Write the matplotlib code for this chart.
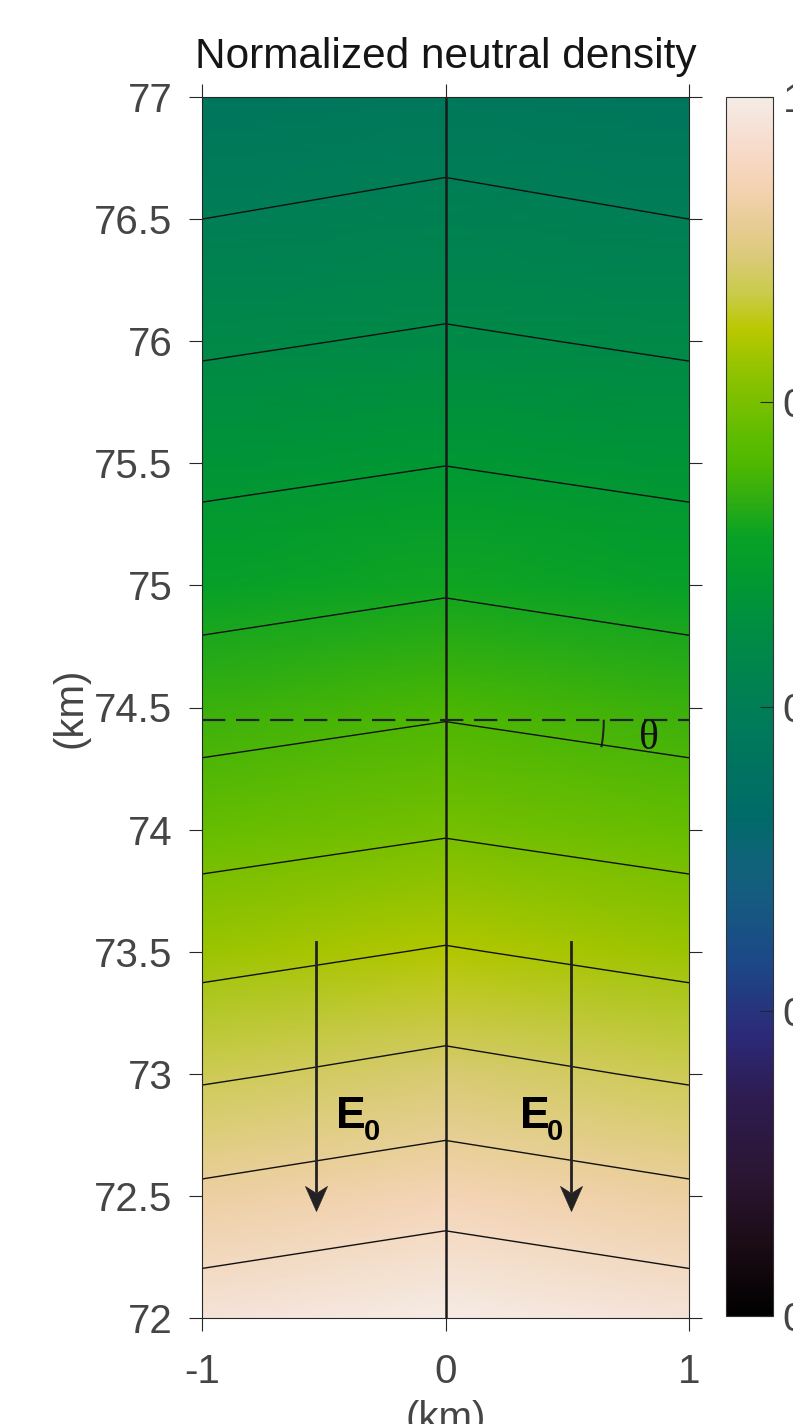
import numpy as np
import matplotlib
matplotlib.use("Agg")
import matplotlib.pyplot as plt
from matplotlib.colors import LinearSegmentedColormap
from matplotlib.patches import Arc
from matplotlib.path import Path
from matplotlib.ticker import FormatStrFormatter

plt.rcParams['font.family'] = ['Liberation Sans', 'DejaVu Sans']
plt.rcParams['axes.unicode_minus'] = False

# grid of the normalized density
x_km = [-1.0, 0.0, 1.0]
z_km = [72.0, 72.5, 73.0, 73.5, 74.0, 74.5, 75.0, 75.5, 76.0, 76.5, 77.0]
dens_center = [1.000, 0.930, 0.864, 0.803, 0.746, 0.694, 0.645, 0.599, 0.556, 0.514, 0.473]
dens_edge = [0.978, 0.909, 0.844, 0.785, 0.730, 0.679, 0.630, 0.586, 0.543, 0.500, 0.461]
contour_levels = [0.50, 0.55, 0.60, 0.65, 0.70, 0.75, 0.80, 0.85, 0.90, 0.95]

y_ticks = [72, 72.5, 73, 73.5, 74, 74.5, 75, 75.5, 76, 76.5, 77]
x_ticks = [-1, 0, 1]
cbar_ticks = [0, 0.25, 0.5, 0.75, 1]

# annotations
ref_alt = 74.45
arrow_x = [-0.53, 0.515]
arrow_top = 73.54
arrow_tip = 72.44
e0_x = [-0.448, 0.304]
e0_z = 72.78

# colormap (black - purple - blue - teal - green - yellow - peach - white)
cmap_stops = [
    (0.00, '#000000'), (0.05, '#180a12'), (0.11, '#2a1530'), (0.18, '#2e1c52'),
    (0.23, '#2c2a78'), (0.29, '#1c4888'), (0.34, '#155a80'), (0.37, '#10627a'),
    (0.41, '#006b68'), (0.46, '#00755e'), (0.50, '#007e56'), (0.555, '#008a46'),
    (0.60, '#009832'), (0.64, '#08a226'), (0.67, '#30ad12'), (0.70, '#50b800'),
    (0.72, '#5cbc00'), (0.78, '#96c300'), (0.81, '#bac800'), (0.84, '#cacb4c'),
    (0.87, '#dbca7a'), (0.90, '#e9cd98'), (0.925, '#f4d2b1'), (0.955, '#f7d9c8'),
    (0.98, '#f6e3d9'), (1.00, '#f5ece6'),
]
cmap = LinearSegmentedColormap.from_list('dens', cmap_stops, N=512)

dens = np.array([dens_edge, dens_center, dens_edge]).T
X, Z = np.meshgrid(x_km, z_km)

axis_col = '#262626'
label_col = '#454545'
fs = 29

fig = plt.figure(figsize=(7.93, 14.24), dpi=100)
ax = fig.add_axes([202 / 793, 106 / 1424, 487 / 793, 1221 / 1424])

mesh = ax.pcolormesh(X, Z, dens, shading='gouraud', cmap=cmap, vmin=0, vmax=1)
ax.contour(X, Z, dens, levels=contour_levels, colors='#111111', linewidths=1.0)
ax.axvline(0, color='#1a1a1a', lw=1.8)
ax.axhline(ref_alt, color='#222222', lw=1.6, linestyle=(0, (10.5, 4.8)))

# angle arc and label
ax.add_patch(Arc((0, ref_alt), 1.3, 1.3, theta1=-10, theta2=0, color='#222222', lw=1.5))
ax.text(0.834, 74.372, '\u03b8', family=['Liberation Serif', 'DejaVu Serif'],
        fontsize=30, color='#111111', ha='center', va='center')

# electric field arrows
head = Path([(0, 0), (-11, 25), (0, 18), (11, 25), (0, 0)],
            [Path.MOVETO, Path.LINETO, Path.LINETO, Path.LINETO, Path.CLOSEPOLY])
for xa in arrow_x:
    ax.plot([xa, xa], [arrow_top, arrow_tip + 0.08], color='#222222', lw=2)
    ax.plot([xa], [arrow_tip], marker=head, markersize=36, color='#222222',
            markeredgewidth=0.5)
for xe in e0_x:
    ax.text(xe, e0_z, 'E', fontsize=32, fontweight='bold', color='#000000',
            ha='left', va='baseline')
    ax.annotate('0', xy=(xe, e0_z), xytext=(19.5, -9), textcoords='offset points',
                fontsize=21, fontweight='bold', color='#000000',
                ha='left', va='baseline')

ax.set_xlim(-1, 1)
ax.set_ylim(72, 77)
ax.set_xticks(x_ticks)
ax.set_yticks(y_ticks)
ax.yaxis.set_major_formatter(FormatStrFormatter('%g'))
ax.tick_params(direction='out', length=9.4, width=0.8, color=axis_col,
               top=True, right=True, labelsize=fs, labelcolor=label_col)
ax.tick_params(axis='x', pad=16)
ax.tick_params(axis='y', pad=12)
for s in ax.spines.values():
    s.set_color(axis_col)
    s.set_linewidth(0.8)

ax.set_xlabel('(km)', fontsize=fs, color=label_col, labelpad=6)
ax.set_ylabel('(km)', fontsize=fs, color=label_col, labelpad=3)
ax.set_title('Normalized neutral density', fontsize=30.5, color='#151515', pad=21)

cax = fig.add_axes([726 / 793, 108 / 1424, 47 / 793, 1219 / 1424])
cb = fig.colorbar(mesh, cax=cax, ticks=cbar_ticks)
cb.ax.yaxis.set_major_formatter(FormatStrFormatter('%g'))
cb.ax.tick_params(direction='in', length=9.4, width=0.8, color=axis_col,
                  labelsize=fs, labelcolor=label_col, pad=7)
cb.outline.set_edgecolor('#333333')
cb.outline.set_linewidth(0.8)

fig.savefig('out.png', dpi=100)
